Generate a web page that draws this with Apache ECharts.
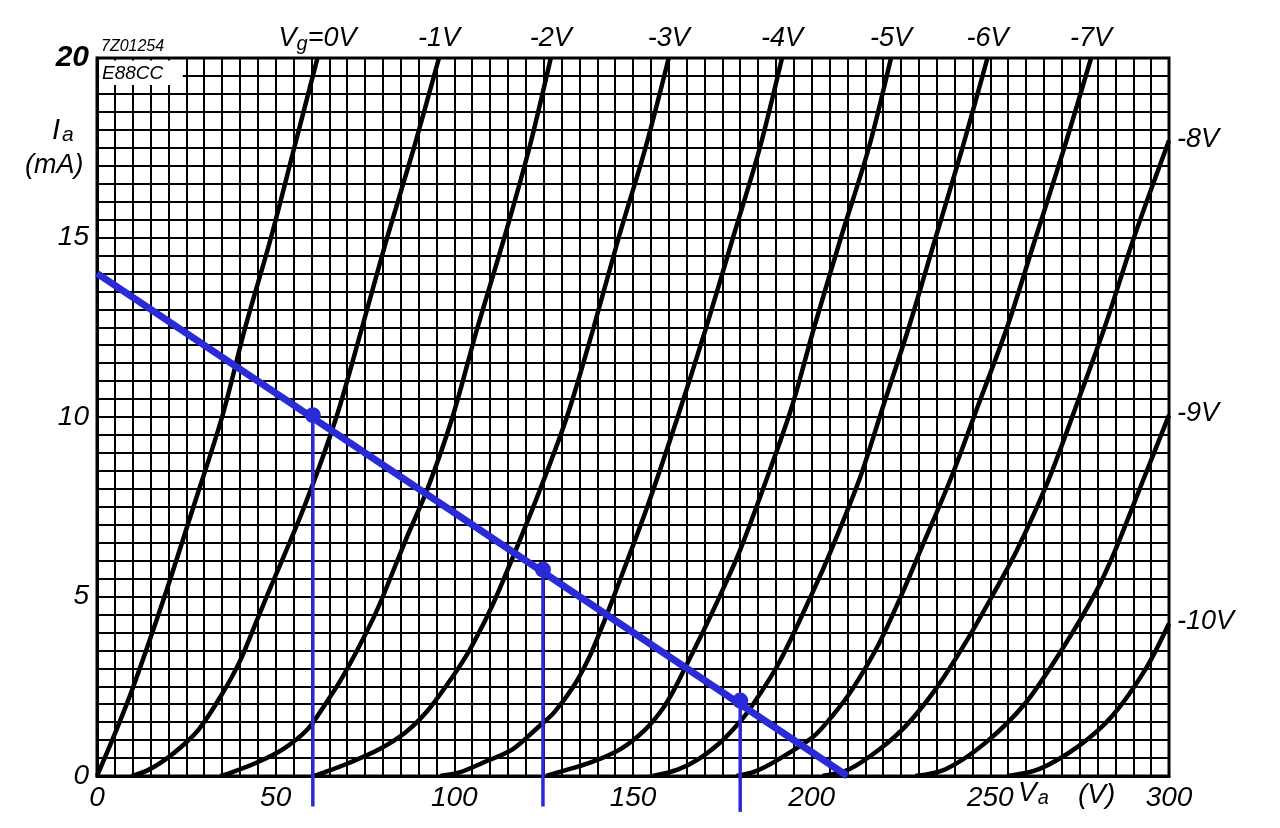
<!DOCTYPE html>
<html>
<head>
<meta charset="utf-8">
<script src="https://cdn.jsdelivr.net/npm/echarts@6/dist/echarts.min.js"></script>
<style>
html,body{margin:0;padding:0;background:#fff;}
#chart{width:1280px;height:828px;}
</style>
</head>
<body>
<div id="chart"></div>
<script>
// ---- data: anode characteristics E88CC, [Va (V), Ia (mA)] ----
const vg0  = [[0,0],[5.5,1.3],[10.2,2.5],[18.9,5],[27,7.5],[35,10],[41.5,12.5],[48.7,15],[55.2,17.5],[61.7,20]];
const vg1  = [[9.7,0],[14,0.15],[19,0.45],[24,0.85],[28.5,1.3],[34.5,2.2],[40,3.2],[45,4.4],[47.5,5],[58,7.5],[67,10],[74.2,12.5],[81.2,15],[88.7,17.5],[95.7,20]];
const vg2  = [[34.5,0],[36.3,0.05],[44.6,0.37],[52.1,0.75],[59,1.31],[63.6,1.96],[67.9,2.62],[72.6,3.46],[77.3,4.39],[80,5],[86.5,6.6],[92.5,8],[99.5,10],[106.5,12.5],[114,15],[121,17.5],[127,20]];
const vg3  = [[60.5,0],[63.3,0.09],[70.7,0.37],[79.1,0.75],[86.3,1.21],[92.2,1.78],[97.8,2.52],[103.4,3.36],[108.9,4.39],[112.2,5.1],[122.5,7.6],[131.5,10],[139,12.5],[146,15],[153.5,17.5],[160,20]];
const vg4  = [[96,0],[101.5,0.1],[108,0.37],[116.4,0.75],[123.9,1.4],[128,1.78],[133.5,2.52],[138,3.36],[142.3,4.4],[145,5.1],[154,7.5],[162.5,10],[170.5,12.5],[178,15],[185.5,17.5],[191.7,20]];
const vg5  = [[125.7,0],[129,0.1],[138,0.37],[146.5,0.75],[153.5,1.3],[158.5,1.9],[162,2.5],[165,3.1],[170,4.1],[174.7,5.1],[180,6.3],[187.5,8.3],[194.5,10.3],[200.7,12.5],[208.2,15],[216,17.5],[222.2,20]];
const vg6  = [[155.5,0],[162.5,0.18],[168,0.45],[174,0.9],[178.5,1.35],[182.6,1.85],[190.9,3.16],[200.2,5.1],[205.5,6.3],[213.5,8.3],[220,10.3],[227.2,12.5],[234.7,15],[242.2,17.5],[249.2,20]];
const vg7  = [[179,0],[184,0.12],[190.5,0.45],[200.5,1.1],[206,1.7],[211.4,2.42],[218.9,3.7],[225.4,5.1],[230.5,6.3],[239,8.3],[246.5,10.3],[254.7,12.5],[262.7,15],[270.7,17.5],[278.2,20]];
const vg8  = [[203,0],[210.5,0.19],[218.9,0.74],[226.3,1.39],[234.7,2.42],[243.1,3.72],[251,5.1],[257.5,6.3],[266.5,8.3],[274,10.3],[282,12.5],[290.2,15],[300,17.7]];
const vg9  = [[229,0],[237.5,0.19],[248.7,0.93],[259.9,2.04],[270.1,3.53],[279.4,5.1],[285,6.3],[293,8.3],[300,10.05]];
const vg10 = [[255,0],[263.6,0.19],[274.8,0.84],[284.1,1.67],[293.4,2.97],[300,4.25]];

const curveNames = ['Vg=0V','-1V','-2V','-3V','-4V','-5V','-6V','-7V','-8V','-9V','-10V'];
const curveLabelSide = ['top','top','top','top','top','top','top','top','right','right','right'];

// load line and operating points
const loadLine = [[0,14],[210,0]];
const opPoints = [[60.4,10.05],[124.8,5.75],[180,2.1]];
const dropEnds = [-0.85,-0.85,-1.0];

// axis ticks
const xTickLabels = [0,50,100,150,200,250,300];
const yTickLabels = [0,5,10,15,20];

// ---- chart ----
const FONT = "'Liberation Sans', Arial, sans-serif";
const INK = '#000';
const BLUE = '#2a2ad8';
const curves = [vg0,vg1,vg2,vg3,vg4,vg5,vg6,vg7,vg8,vg9,vg10];

const series = [];
curves.forEach((c, k) => {
  const s = {
    type: 'line', name: curveNames[k], data: c,
    smooth: 0.3, symbol: 'none',
    lineStyle: {color: '#000', width: 4.5}, z: 3, silent: true
  };
  if (k === 0) {
    s.markArea = {
      silent: true,
      itemStyle: {color: '#fff', opacity: 1},
      data: [[{coord: [0.6, 19.25]}, {coord: [24, 19.93]}]]
    };
  }
  series.push(s);
});

// curve labels at the end of each curve
series.push({
  type: 'scatter', symbolSize: 0, z: 6, silent: true,
  itemStyle: {opacity: 1, color: INK},
  data: curves.map((c, k) => ({
    value: c[c.length - 1],
    label: {
      show: true,
      position: curveLabelSide[k],
      distance: curveLabelSide[k] === 'top' ? 3 : 8,
      formatter: k === 0 ? '{n|V}{s|g}{n|=0V}' : '{n|' + curveNames[k] + '}'
    }
  })),
  label: {
    color: INK, opacity: 1, textBorderWidth: 0,
    rich: {
      n: {fontFamily: FONT, fontStyle: 'italic', fontSize: 27, color: INK, verticalAlign: 'top', lineHeight: 30},
      s: {fontFamily: FONT, fontStyle: 'italic', fontSize: 20, color: INK, verticalAlign: 'top', lineHeight: 30, padding: [9, 0, 0, 0]}
    }
  }
});

// load line
series.push({
  type: 'line', data: loadLine, symbol: 'none', z: 8, silent: true,
  lineStyle: {color: BLUE, width: 7}
});
// drop lines from operating points
opPoints.forEach((p, k) => {
  series.push({
    type: 'line', data: [p, [p[0], dropEnds[k]]], symbol: 'none', clip: false, z: 8, silent: true,
    lineStyle: {color: BLUE, width: 3.5}
  });
});
// operating points
series.push({
  type: 'scatter', data: opPoints, symbol: 'circle', symbolSize: 16, z: 9, silent: true,
  itemStyle: {color: BLUE, opacity: 1}
});

const axisLabelBase = {fontFamily: FONT, fontStyle: 'italic', fontSize: 28, color: INK};

const option = {
  animation: false,
  backgroundColor: '#fff',
  grid: {left: 97, right: 111, top: 58, bottom: 52, show: true, borderColor: '#000', borderWidth: 3, backgroundColor: 'transparent'},
  xAxis: {
    type: 'value', min: 0, max: 300, interval: 5,
    axisLine: {show: true, onZero: false, lineStyle: {color: '#000', width: 3}},
    axisTick: {show: false},
    splitLine: {show: true, lineStyle: {color: '#000', width: 2}},
    axisLabel: Object.assign({}, axisLabelBase, {
      margin: 8,
      formatter: v => xTickLabels.includes(v) ? String(v) : ''
    })
  },
  yAxis: {
    type: 'value', min: 0, max: 20, interval: 0.5,
    axisLine: {show: true, onZero: false, lineStyle: {color: '#000', width: 3}},
    axisTick: {show: false},
    splitLine: {show: true, lineStyle: {color: '#000', width: 2}},
    axisLabel: Object.assign({}, axisLabelBase, {
      margin: 8,
      formatter: v => yTickLabels.includes(v) ? (v === 20 ? '{b|20}' : String(v)) : '',
      rich: {b: {fontFamily: FONT, fontStyle: 'italic', fontWeight: 'bold', fontSize: 30, color: INK}}
    })
  },
  graphic: [
    {type: 'text', left: 101, top: 39, z: 10, style: {text: '7Z01254', font: 'italic 16px ' + FONT, fill: INK}},
    {type: 'text', left: 102, top: 64, z: 10, style: {text: 'E88CC', font: 'italic 19px ' + FONT, fill: INK}},
    {type: 'text', left: 52, top: 116, z: 10, style: {
      text: '{n|I}{s|a}',
      rich: {
        n: {fontFamily: FONT, fontStyle: 'italic', fontSize: 29, fill: INK, verticalAlign: 'top', lineHeight: 32},
        s: {fontFamily: FONT, fontStyle: 'italic', fontSize: 21, fill: INK, verticalAlign: 'top', lineHeight: 32, padding: [9, 0, 0, 2]}
      }}},
    {type: 'text', left: 25, top: 152, z: 10, style: {text: '(mA)', font: 'italic 27px ' + FONT, fill: INK}},
    {type: 'text', left: 1018, top: 779, z: 10, style: {
      text: '{n|V}{s|a}',
      rich: {
        n: {fontFamily: FONT, fontStyle: 'italic', fontSize: 28, fill: INK, verticalAlign: 'top', lineHeight: 32},
        s: {fontFamily: FONT, fontStyle: 'italic', fontSize: 20, fill: INK, verticalAlign: 'top', lineHeight: 32, padding: [9, 0, 0, 1]}
      }}},
    {type: 'text', left: 1078, top: 781, z: 10, style: {text: '(V)', font: 'italic 28px ' + FONT, fill: INK}}
  ],
  series: series
};

const chart = echarts.init(document.getElementById('chart'), null, {renderer: 'canvas'});
chart.setOption(option);
</script>
</body>
</html>
